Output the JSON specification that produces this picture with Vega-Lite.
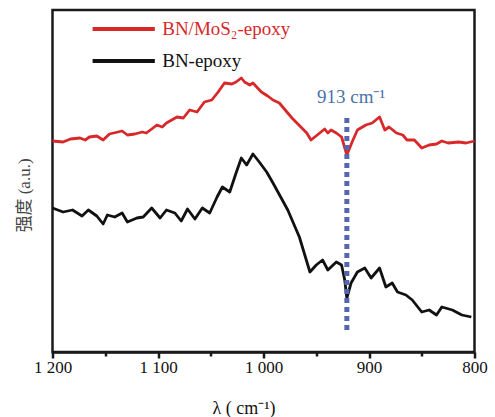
{
  "$schema": "https://vega.github.io/schema/vega-lite/v6.json",
  "width": 422,
  "height": 342,
  "autosize": {"type": "none"},
  "padding": {"left": 52.5, "top": 10, "right": 20.5, "bottom": 65},
  "background": "white",
  "config": {
    "view": {"stroke": "#1a1a1a", "strokeWidth": 2.5},
    "font": "Liberation Serif"
  },
  "datasets": {
    "spectra": [
      {"w":1200,"v":211,"s":"BN/MoS₂-epoxy"},{"w":1190,"v":210,"s":"BN/MoS₂-epoxy"},{"w":1183,"v":213,"s":"BN/MoS₂-epoxy"},{"w":1174,"v":214,"s":"BN/MoS₂-epoxy"},{"w":1169,"v":212,"s":"BN/MoS₂-epoxy"},{"w":1165,"v":215,"s":"BN/MoS₂-epoxy"},{"w":1158,"v":216,"s":"BN/MoS₂-epoxy"},{"w":1152,"v":212,"s":"BN/MoS₂-epoxy"},{"w":1146,"v":218,"s":"BN/MoS₂-epoxy"},{"w":1134,"v":221,"s":"BN/MoS₂-epoxy"},{"w":1129,"v":217,"s":"BN/MoS₂-epoxy"},{"w":1122,"v":218,"s":"BN/MoS₂-epoxy"},{"w":1115,"v":220,"s":"BN/MoS₂-epoxy"},{"w":1111,"v":219,"s":"BN/MoS₂-epoxy"},{"w":1101,"v":227,"s":"BN/MoS₂-epoxy"},{"w":1096,"v":225,"s":"BN/MoS₂-epoxy"},{"w":1092,"v":229,"s":"BN/MoS₂-epoxy"},{"w":1082,"v":235,"s":"BN/MoS₂-epoxy"},{"w":1076,"v":234,"s":"BN/MoS₂-epoxy"},{"w":1070,"v":242,"s":"BN/MoS₂-epoxy"},{"w":1063,"v":240,"s":"BN/MoS₂-epoxy"},{"w":1056,"v":250,"s":"BN/MoS₂-epoxy"},{"w":1049,"v":252,"s":"BN/MoS₂-epoxy"},{"w":1043,"v":260,"s":"BN/MoS₂-epoxy"},{"w":1037,"v":269,"s":"BN/MoS₂-epoxy"},{"w":1030,"v":268,"s":"BN/MoS₂-epoxy"},{"w":1026,"v":270,"s":"BN/MoS₂-epoxy"},{"w":1021,"v":274,"s":"BN/MoS₂-epoxy"},{"w":1018,"v":270,"s":"BN/MoS₂-epoxy"},{"w":1013,"v":267,"s":"BN/MoS₂-epoxy"},{"w":1010,"v":269,"s":"BN/MoS₂-epoxy"},{"w":1002,"v":260,"s":"BN/MoS₂-epoxy"},{"w":996,"v":256,"s":"BN/MoS₂-epoxy"},{"w":991,"v":252,"s":"BN/MoS₂-epoxy"},{"w":985,"v":249,"s":"BN/MoS₂-epoxy"},{"w":973,"v":234,"s":"BN/MoS₂-epoxy"},{"w":959,"v":219,"s":"BN/MoS₂-epoxy"},{"w":955,"v":212,"s":"BN/MoS₂-epoxy"},{"w":949,"v":217,"s":"BN/MoS₂-epoxy"},{"w":942,"v":223,"s":"BN/MoS₂-epoxy"},{"w":939,"v":219,"s":"BN/MoS₂-epoxy"},{"w":936,"v":222,"s":"BN/MoS₂-epoxy"},{"w":931,"v":219,"s":"BN/MoS₂-epoxy"},{"w":926,"v":215,"s":"BN/MoS₂-epoxy"},{"w":921,"v":197,"s":"BN/MoS₂-epoxy"},{"w":916,"v":210,"s":"BN/MoS₂-epoxy"},{"w":911,"v":222,"s":"BN/MoS₂-epoxy"},{"w":903,"v":227,"s":"BN/MoS₂-epoxy"},{"w":897,"v":229,"s":"BN/MoS₂-epoxy"},{"w":890,"v":235,"s":"BN/MoS₂-epoxy"},{"w":885,"v":222,"s":"BN/MoS₂-epoxy"},{"w":881,"v":225,"s":"BN/MoS₂-epoxy"},{"w":874,"v":219,"s":"BN/MoS₂-epoxy"},{"w":868,"v":217,"s":"BN/MoS₂-epoxy"},{"w":864,"v":212,"s":"BN/MoS₂-epoxy"},{"w":857,"v":212,"s":"BN/MoS₂-epoxy"},{"w":850,"v":204,"s":"BN/MoS₂-epoxy"},{"w":843,"v":207,"s":"BN/MoS₂-epoxy"},{"w":836,"v":208,"s":"BN/MoS₂-epoxy"},{"w":831,"v":211,"s":"BN/MoS₂-epoxy"},{"w":825,"v":209,"s":"BN/MoS₂-epoxy"},{"w":815,"v":210,"s":"BN/MoS₂-epoxy"},{"w":808,"v":209,"s":"BN/MoS₂-epoxy"},{"w":800,"v":211,"s":"BN/MoS₂-epoxy"},
      {"w":1200,"v":144,"s":"BN-epoxy"},{"w":1190,"v":140,"s":"BN-epoxy"},{"w":1181,"v":142,"s":"BN-epoxy"},{"w":1172,"v":136,"s":"BN-epoxy"},{"w":1166,"v":142,"s":"BN-epoxy"},{"w":1158,"v":136,"s":"BN-epoxy"},{"w":1152,"v":128,"s":"BN-epoxy"},{"w":1148,"v":137,"s":"BN-epoxy"},{"w":1141,"v":135,"s":"BN-epoxy"},{"w":1134,"v":139,"s":"BN-epoxy"},{"w":1129,"v":130,"s":"BN-epoxy"},{"w":1120,"v":134,"s":"BN-epoxy"},{"w":1114,"v":135,"s":"BN-epoxy"},{"w":1106,"v":144,"s":"BN-epoxy"},{"w":1098,"v":134,"s":"BN-epoxy"},{"w":1092,"v":142,"s":"BN-epoxy"},{"w":1084,"v":139,"s":"BN-epoxy"},{"w":1078,"v":131,"s":"BN-epoxy"},{"w":1072,"v":143,"s":"BN-epoxy"},{"w":1065,"v":133,"s":"BN-epoxy"},{"w":1058,"v":144,"s":"BN-epoxy"},{"w":1051,"v":139,"s":"BN-epoxy"},{"w":1044,"v":155,"s":"BN-epoxy"},{"w":1039,"v":165,"s":"BN-epoxy"},{"w":1032,"v":160,"s":"BN-epoxy"},{"w":1026,"v":179,"s":"BN-epoxy"},{"w":1021,"v":194,"s":"BN-epoxy"},{"w":1016,"v":187,"s":"BN-epoxy"},{"w":1010,"v":198,"s":"BN-epoxy"},{"w":1004,"v":190,"s":"BN-epoxy"},{"w":997,"v":180,"s":"BN-epoxy"},{"w":991,"v":169,"s":"BN-epoxy"},{"w":977,"v":142,"s":"BN-epoxy"},{"w":966,"v":115,"s":"BN-epoxy"},{"w":956,"v":80,"s":"BN-epoxy"},{"w":950,"v":87,"s":"BN-epoxy"},{"w":944,"v":92,"s":"BN-epoxy"},{"w":939,"v":82,"s":"BN-epoxy"},{"w":931,"v":90,"s":"BN-epoxy"},{"w":926,"v":87,"s":"BN-epoxy"},{"w":923,"v":72,"s":"BN-epoxy"},{"w":921,"v":54,"s":"BN-epoxy"},{"w":917,"v":69,"s":"BN-epoxy"},{"w":911,"v":80,"s":"BN-epoxy"},{"w":904,"v":84,"s":"BN-epoxy"},{"w":898,"v":74,"s":"BN-epoxy"},{"w":890,"v":84,"s":"BN-epoxy"},{"w":884,"v":65,"s":"BN-epoxy"},{"w":878,"v":69,"s":"BN-epoxy"},{"w":873,"v":60,"s":"BN-epoxy"},{"w":865,"v":57,"s":"BN-epoxy"},{"w":859,"v":52,"s":"BN-epoxy"},{"w":850,"v":40,"s":"BN-epoxy"},{"w":843,"v":42,"s":"BN-epoxy"},{"w":836,"v":37,"s":"BN-epoxy"},{"w":831,"v":45,"s":"BN-epoxy"},{"w":821,"v":42,"s":"BN-epoxy"},{"w":812,"v":37,"s":"BN-epoxy"},{"w":803,"v":35,"s":"BN-epoxy"}
    ],
    "legend": [
      {"s":"BN/MoS₂-epoxy","w1":1162,"w2":1103,"v":323,"wt":1096},
      {"s":"BN-epoxy","w1":1162,"w2":1103,"v":291,"wt":1096}
    ],
    "marker": [
      {"w":921,"v1":22,"v2":237,"label":"913 cm⁻¹","wt":917,"vt":255}
    ]
  },
  "encoding": {
    "x": {
      "type": "quantitative",
      "scale": {"domain": [800, 1200], "reverse": true, "nice": false, "zero": false},
      "axis": {
        "values": [1200, 1150, 1100, 1050, 1000, 950, 900, 850, 800],
        "labelExpr": "datum.value % 100 != 0 ? '' : (datum.value >= 1000 ? '1 ' + format(datum.value % 1000, '03d') : format(datum.value, 'd'))",
        "title": "λ ( cm⁻¹)",
        "titleFont": "Liberation Serif",
        "titleFontSize": 18,
        "titleFontWeight": "normal",
        "titleColor": "#111",
        "titleX": 191,
        "titleY": 61,
        "titleAlign": "center",
        "titleBaseline": "alphabetic",
        "labelFont": "Liberation Serif",
        "labelFontSize": 17,
        "labelColor": "#111",
        "labelPadding": 1,
        "labelFlush": false,
        "labelOverlap": false,
        "domainColor": "#1a1a1a",
        "domainWidth": 2.5,
        "tickColor": "#1a1a1a",
        "tickWidth": 2.5,
        "tickSize": {"condition": {"test": "datum.value % 100 == 0", "value": 6}, "value": 4},
        "grid": false
      }
    },
    "y": {
      "type": "quantitative",
      "scale": {"domain": [0, 342], "nice": false, "zero": false},
      "axis": {
        "title": "强度 (a.u.)",
        "titleFont": "Liberation Serif, Noto Sans CJK SC",
        "titleFontSize": 17,
        "titleFontWeight": "normal",
        "titleColor": "#444",
        "titleX": -28,
        "titleY": 185,
        "titleAngle": -90,
        "titleAlign": "center",
        "titleBaseline": "middle",
        "labels": false,
        "ticks": false,
        "domain": false,
        "grid": false
      }
    }
  },
  "layer": [
    {
      "data": {"name": "spectra"},
      "mark": {"type": "line", "strokeWidth": 2.8, "strokeJoin": "round", "interpolate": "linear"},
      "encoding": {
        "x": {"field": "w"},
        "y": {"field": "v"},
        "color": {"field": "s", "type": "nominal", "scale": {"domain": ["BN/MoS₂-epoxy", "BN-epoxy"], "range": ["#d8282a", "#111111"]}, "legend": null},
        "detail": {"field": "s"}
      }
    },
    {
      "data": {"name": "marker"},
      "mark": {"type": "rule", "color": "#5566b0", "strokeWidth": 5, "strokeDash": [5, 4]},
      "encoding": {
        "x": {"field": "w"},
        "y": {"field": "v1"},
        "y2": {"field": "v2"}
      }
    },
    {
      "data": {"name": "marker"},
      "mark": {"type": "text", "color": "#4a72a8", "fontSize": 19, "font": "Liberation Serif", "align": "center", "baseline": "middle"},
      "encoding": {
        "x": {"field": "wt"},
        "y": {"field": "vt"},
        "text": {"field": "label"}
      }
    },
    {
      "data": {"name": "legend"},
      "mark": {"type": "rule", "strokeWidth": 4},
      "encoding": {
        "x": {"field": "w1"},
        "x2": {"field": "w2"},
        "y": {"field": "v"},
        "color": {"field": "s", "type": "nominal", "legend": null}
      }
    },
    {
      "data": {"name": "legend"},
      "mark": {"type": "text", "fontSize": 19, "font": "Liberation Serif", "align": "left", "baseline": "middle"},
      "encoding": {
        "x": {"field": "wt"},
        "y": {"field": "v"},
        "text": {"field": "s"},
        "color": {"field": "s", "type": "nominal", "legend": null}
      }
    }
  ]
}
